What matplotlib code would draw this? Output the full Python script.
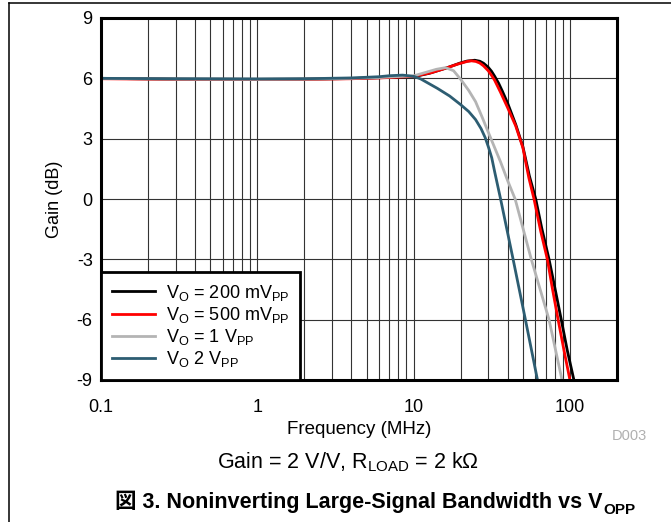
import numpy as np
import matplotlib
matplotlib.use("Agg")
import matplotlib.pyplot as plt
from matplotlib.lines import Line2D

plt.rcParams['font.family'] = ['Liberation Sans', 'Noto Sans CJK JP', 'DejaVu Sans']
plt.rcParams['mathtext.fontset'] = 'custom'
plt.rcParams['mathtext.rm'] = 'Liberation Sans'
plt.rcParams['mathtext.bf'] = 'Liberation Sans:bold'
plt.rcParams['axes.unicode_minus'] = False

# region data
f_200m = [0.1, 0.3, 1, 2, 4, 6, 8, 10, 12.6, 16, 20, 22, 24.6, 26.5, 28, 30, 31.5, 33,
          35, 37, 40, 45, 50, 55, 60.4, 66, 73.5, 80, 88, 96, 106]
g_200m = [6.0, 5.96, 5.95, 5.96, 5.99, 6.03, 6.06, 6.08, 6.25, 6.5, 6.77, 6.86, 6.9, 6.85,
          6.75, 6.55, 6.35, 6.1, 5.75, 5.35, 4.75, 3.7, 2.6, 1.15, 0.0, -1.45, -3.0,
          -4.4, -6.0, -7.5, -9.0]

f_500m = [0.1, 0.3, 1, 2, 4, 6, 8, 10, 13, 16, 19, 22, 23.4, 25, 26.5, 28, 30, 31.5, 33,
          36, 40, 45, 50, 54.6, 58.9, 65, 71.7, 77, 84, 92, 100]
g_500m = [5.98, 5.95, 5.94, 5.95, 5.98, 6.02, 6.06, 6.1, 6.28, 6.5, 6.7, 6.84, 6.87, 6.84,
          6.76, 6.62, 6.38, 6.15, 5.9, 5.3, 4.53, 3.63, 2.55, 1.05, 0.0, -1.6, -3.0,
          -4.4, -6.0, -7.6, -9.0]

f_1v = [0.1, 0.3, 1, 2, 4, 6, 8, 10, 12, 14, 16, 18, 20, 22.5, 24.9, 27.5, 30, 33, 36,
        40, 44.6, 50, 56.6, 64, 73.5, 81, 89]
g_1v = [6.0, 5.96, 5.95, 5.96, 6.0, 6.04, 6.09, 6.12, 6.3, 6.45, 6.53, 6.38, 5.95, 5.4,
        4.84, 4.05, 3.33, 2.55, 1.84, 0.9, 0.0, -1.44, -3.0, -4.41, -6.0, -7.53, -9.0]

f_2v = [0.1, 0.3, 1, 2, 4, 6, 7, 8.5, 10, 11.1, 14.2, 17, 20, 22.5, 24.9, 27, 28.7, 30.2,
        31.6, 33, 34.3, 36, 43.3, 51.9, 62]
g_2v = [6.0, 5.98, 5.97, 5.98, 6.02, 6.08, 6.13, 6.16, 6.1, 5.97, 5.5, 5.12, 4.69, 4.35,
        3.95, 3.5, 3.05, 2.55, 2.05, 1.35, 0.75, 0.0, -3.0, -6.0, -9.0]

labels = [r'V$_{\mathrm{O}}$ = 200 mV$_{\mathrm{PP}}$',
          r'V$_{\mathrm{O}}$ = 500 mV$_{\mathrm{PP}}$',
          r'V$_{\mathrm{O}}$ = 1 V$_{\mathrm{PP}}$',
          r'V$_{\mathrm{O}}$ 2 V$_{\mathrm{PP}}$']
colors = ['#000000', '#ff0000', '#b4b4b4', '#2d5d72']
x_ticks = [0.1, 1, 10, 100]
x_ticklabels = ['0.1', '1', '10', '100']
y_ticks = [-9, -6, -3, 0, 3, 6, 9]
# endregion

W, H = 671, 522
fig = plt.figure(figsize=(W / 100, H / 100), dpi=100)
ax = fig.add_axes([101 / W, 1 - 380 / H, (617 - 101) / W, (380 - 18) / H])

series = [(f_200m, g_200m), (f_500m, g_500m), (f_1v, g_1v), (f_2v, g_2v)]
for (f, g), c, lab in zip(series, colors, labels):
    ax.plot(f, g, color=c, lw=2.0, label=lab, solid_joinstyle='round')

ax.set_xscale('log')
ax.set_xlim(0.1, 200)
ax.set_ylim(-9, 9)
ax.set_xticks(x_ticks)
ax.set_xticklabels(x_ticklabels)
ax.set_yticks(y_ticks)
ax.tick_params(which='both', length=0, labelsize=13)
ax.tick_params(axis='x', pad=14)
ax.tick_params(axis='y', pad=6)
ax.grid(which='both', axis='x', color='#333333', lw=0.8)
ax.grid(which='major', axis='y', color='#333333', lw=0.8)
ax.set_axisbelow(True)
for s in ax.spines.values():
    s.set_linewidth(2.2)

ax.set_xlabel('Frequency (MHz)', fontsize=13.5)
ax.xaxis.set_label_coords(0.5, -0.112)
ax.set_ylabel('Gain (dB)', fontsize=13)
ax.yaxis.set_label_coords(-0.074, 0.5)

leg = ax.legend(loc='lower left', bbox_to_anchor=(0, 0), borderaxespad=0,
                fontsize=13, fancybox=False, framealpha=1, edgecolor='black',
                handlelength=2.4, handletextpad=0.6, labelspacing=0.12,
                borderpad=0.6)
leg.get_frame().set_linewidth(2.0)

fig.text(629 / W, 1 - 436 / H, 'D003', fontsize=10.5, color='#b0b0b0', ha='center', va='center')
fig.text(348 / W, 1 - 462 / H, r'Gain = 2 V/V, R$_{\mathrm{LOAD}}$ = 2 k$\Omega$', fontsize=15.5,
         ha='center', va='center')
ttl = fig.text(359 / W, 1 - 502 / H, '図 3. Noninverting Large-Signal Bandwidth vs V',
               fontsize=15.5, fontweight='bold', ha='center', va='center')
ax.annotate('OPP', xy=(1, 0), xycoords=ttl, xytext=(0.5, -3), textcoords='offset points',
            fontsize=11, fontweight='bold', ha='left', va='bottom', annotation_clip=False)

# frame around the figure
fig.add_artist(Line2D([8.5 / W, 8.5 / W], [0, 1 - 2.5 / H], color='black', lw=1.1))
fig.add_artist(Line2D([8.5 / W, 1], [1 - 2.5 / H, 1 - 2.5 / H], color='black', lw=1.1))

fig.savefig('out.png', dpi=100)
